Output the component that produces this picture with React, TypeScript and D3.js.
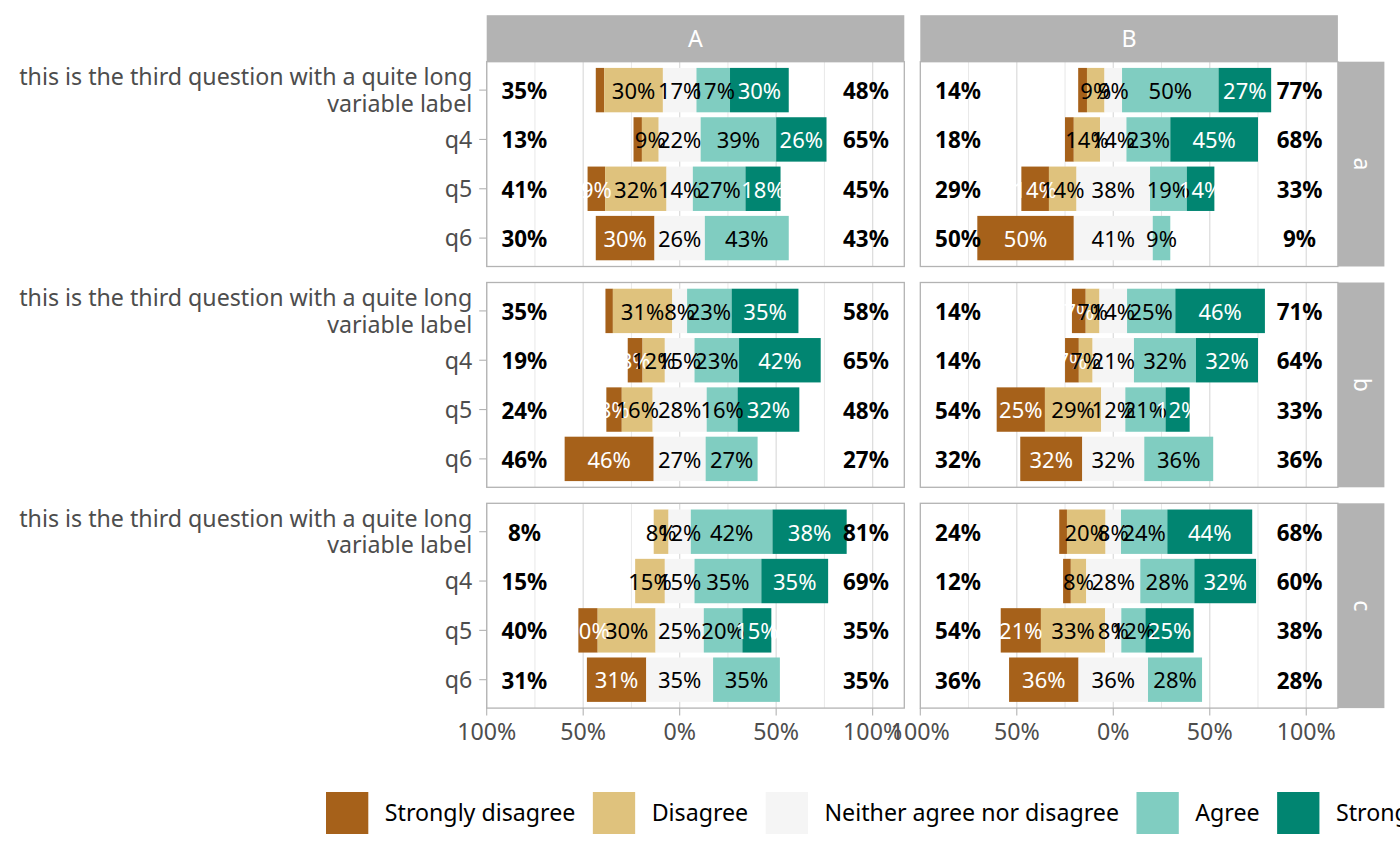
import { useMemo } from "react";
import { scaleLinear, scalePoint } from "d3";

const QUESTIONS = ["this is the third question with a quite long variable label", "q4", "q5", "q6"];
const COLUMNS = ["A", "B"];
const ROW_FACETS = ["a", "b", "c"];
const LEVELS = ["Strongly disagree", "Disagree", "Neither agree nor disagree", "Agree", "Strongly agree"];
const COLORS = ["#A6611A", "#DFC27D", "#F5F5F5", "#80CDC1", "#018571"];
const LABEL_COLORS = ["#FFFFFF", "#000000", "#000000", "#000000", "#FFFFFF"];

// % per question (rows) and answer level (columns)
const cellAa = [
  [4.35, 30.43, 17.39, 17.39, 30.43],
  [4.35, 8.7, 21.74, 39.13, 26.09],
  [9.09, 31.82, 13.64, 27.27, 18.18],
  [30.43, 0, 26.09, 43.48, 0],
];
const cellBa = [
  [4.55, 9.09, 9.09, 50, 27.27],
  [4.55, 13.64, 13.64, 22.73, 45.45],
  [14.29, 14.29, 38.1, 19.05, 14.29],
  [50, 0, 40.91, 9.09, 0],
];
const cellAb = [
  [3.85, 30.77, 7.69, 23.08, 34.62],
  [7.69, 11.54, 15.38, 23.08, 42.31],
  [8, 16, 28, 16, 32],
  [46.15, 0, 26.92, 26.92, 0],
];
const cellBb = [
  [7.14, 7.14, 14.29, 25, 46.43],
  [7.14, 7.14, 21.43, 32.14, 32.14],
  [25, 29.17, 12.5, 20.83, 12.5],
  [32.14, 0, 32.14, 35.71, 0],
];
const cellAc = [
  [0, 7.69, 11.54, 42.31, 38.46],
  [0, 15.38, 15.38, 34.62, 34.62],
  [10, 30, 25, 20, 15],
  [30.77, 0, 34.62, 34.62, 0],
];
const cellBc = [
  [4, 20, 8, 24, 44],
  [4, 8, 28, 28, 32],
  [20.83, 33.33, 8.33, 12.5, 25],
  [36, 0, 36, 28, 0],
];

const MAJOR_TICKS = [-100, -50, 0, 50, 100];
const MINOR_TICKS = [-75, -25, 25, 75];

const CELLS: Record<string, number[][]> = {
  "A-a": cellAa, "B-a": cellBa,
  "A-b": cellAb, "B-b": cellBb,
  "A-c": cellAc, "B-c": cellBc,
};

const FONT = "'Noto Sans', sans-serif";
const FS = 23.2; // axis, strip, legend text
const FS_LABEL = 22; // in-bar labels
const FS_TOTAL = 22.4;
const HIDE_BELOW = 5;
const TOTALS_HJUST = 10;

const PANEL_X0 = 486.7;
const PANEL_W = 417.6;
const COL_GAP = 16;
const PANEL_Y0 = 61.7;
const PANEL_H = 204.8;
const ROW_GAP = 16;
const STRIP = 46.5;
const BORDER = "#B3B3B3";

// R style rounding (half to even)
function pct(v: number) {
  let r = Math.round(v);
  if (Math.abs(v - Math.trunc(v)) === 0.5) r = 2 * Math.round(v / 2);
  return `${r}%`;
}

function wrap(s: string, width: number) {
  const words = s.split(" ");
  const lines: string[] = [];
  let cur = "";
  for (const w of words) {
    if (cur && (cur + " " + w).length > width) {
      lines.push(cur);
      cur = w;
    } else cur = cur ? cur + " " + w : w;
  }
  if (cur) lines.push(cur);
  return lines;
}

export default function App() {
  const all = Object.values(CELLS).flat();
  const leftMax = Math.max(...all.map((r) => r[0] + r[1] + r[2] / 2));
  const rightMax = Math.max(...all.map((r) => r[2] / 2 + r[3] + r[4]));
  const totLeftX = -(leftMax + TOTALS_HJUST);
  const totRightX = rightMax + TOTALS_HJUST;

  const legendWidths = useMemo(() => {
    const ctx = document.createElement("canvas").getContext("2d");
    if (!ctx) return LEVELS.map((l) => l.length * 11);
    ctx.font = `${FS}px 'Noto Sans'`;
    return LEVELS.map((l) => ctx.measureText(l).width);
  }, []);

  const colX = (c: number) => PANEL_X0 + c * (PANEL_W + COL_GAP);
  const rowY = (r: number) => PANEL_Y0 + r * (PANEL_H + ROW_GAP);
  const bottom = rowY(ROW_FACETS.length - 1) + PANEL_H;
  const rightEdge = colX(COLUMNS.length - 1) + PANEL_W;

  // legend layout
  const KEY_W = 42.3;
  const KEY_H = 42;
  const legendY = 792;
  let lx = 326;
  const legendItems = LEVELS.map((l, i) => {
    const item = { label: l, color: COLORS[i], x: lx };
    lx += KEY_W + 16.5 + legendWidths[i] + 17.5;
    return item;
  });

  return (
    <svg width={1400} height={865} style={{ position: "absolute", left: 0, top: 0 }} fontFamily={FONT}>
      <rect width={1400} height={865} fill="#FFFFFF" />
      {ROW_FACETS.map((rf, ri) =>
        COLUMNS.map((cf, ci) => {
          const px = colX(ci);
          const py = rowY(ri);
          const x = scaleLinear().domain([-100, 116.4]).range([px, px + PANEL_W]);
          const y = scalePoint<string>().domain(QUESTIONS).range([py, py + PANEL_H]).padding(0.576);
          const bh = y.step() * 0.9;
          const data = CELLS[`${cf}-${rf}`];
          const clipId = `clip-${cf}-${rf}`;
          return (
            <g key={clipId}>
              <clipPath id={clipId}>
                <rect x={px} y={py} width={PANEL_W} height={PANEL_H} />
              </clipPath>
              <g clipPath={`url(#${clipId})`}>
                {MINOR_TICKS.map((t) => (
                  <line key={`mi${t}`} x1={x(t)} x2={x(t)} y1={py} y2={py + PANEL_H} stroke="#DEDEDE" strokeWidth={0.7} />
                ))}
                {MAJOR_TICKS.map((t) => (
                  <line key={`ma${t}`} x1={x(t)} x2={x(t)} y1={py} y2={py + PANEL_H} stroke="#DEDEDE" strokeWidth={1.3} />
                ))}
                {data.map((vals, qi) => {
                  const cy = y(QUESTIONS[qi]) ?? 0;
                  let start = -(vals[0] + vals[1] + vals[2] / 2);
                  const segs = vals.map((v, li) => {
                    const s = { li, v, x0: start, x1: start + v };
                    start += v;
                    return s;
                  });
                  return (
                    <g key={qi}>
                      {segs.filter((s) => s.v > 0).map((s) => (
                        <rect key={s.li} x={x(s.x0)} y={cy - bh / 2} width={x(s.x1) - x(s.x0)} height={bh} fill={COLORS[s.li]} />
                      ))}
                    </g>
                  );
                })}
                {data.map((vals, qi) => {
                  const cy = y(QUESTIONS[qi]) ?? 0;
                  let start = -(vals[0] + vals[1] + vals[2] / 2);
                  const labels = vals.map((v, li) => {
                    const mid = start + v / 2;
                    start += v;
                    return { li, v, mid };
                  });
                  const left = vals[0] + vals[1];
                  const right = vals[3] + vals[4];
                  return (
                    <g key={`l${qi}`}>
                      {labels.filter((l) => l.v >= HIDE_BELOW).map((l) => (
                        <text key={l.li} x={x(l.mid)} y={cy} dy="0.4em" textAnchor="middle" fontSize={FS_LABEL} fill={LABEL_COLORS[l.li]}>
                          {pct(l.v)}
                        </text>
                      ))}
                      <text x={x(totLeftX)} y={cy} dy="0.4em" textAnchor="middle" fontSize={FS_TOTAL} fontWeight={700} fill="#000">
                        {pct(left)}
                      </text>
                      <text x={x(totRightX)} y={cy} dy="0.4em" textAnchor="middle" fontSize={FS_TOTAL} fontWeight={700} fill="#000">
                        {pct(right)}
                      </text>
                    </g>
                  );
                })}
              </g>
              <rect x={px} y={py} width={PANEL_W} height={PANEL_H} fill="none" stroke={BORDER} strokeWidth={1.3} />

              {/* y axis on first column */}
              {ci === 0 &&
                QUESTIONS.map((q) => {
                  const cy = y(q) ?? 0;
                  const lines = wrap(q, 50);
                  const lh = 26.7;
                  return (
                    <g key={q}>
                      <line x1={px - 7.5} x2={px} y1={cy} y2={cy} stroke={BORDER} strokeWidth={1.1} />
                      <text x={px - 14.5} y={cy - ((lines.length - 1) * lh) / 2} fontSize={FS} fill="#4D4D4D" textAnchor="end">
                        {lines.map((ln, k) => (
                          <tspan key={k} x={px - 14.5} dy={k === 0 ? "0.36em" : lh}>
                            {ln}
                          </tspan>
                        ))}
                      </text>
                    </g>
                  );
                })}

              {/* x axis on last row */}
              {ri === ROW_FACETS.length - 1 &&
                MAJOR_TICKS.map((t) => (
                  <g key={`xt${t}`}>
                    <line x1={x(t)} x2={x(t)} y1={bottom} y2={bottom + 7.5} stroke={BORDER} strokeWidth={1.1} />
                    <text x={x(t)} y={bottom + 32} fontSize={FS} fill="#4D4D4D" textAnchor="middle">
                      {pct(Math.abs(t))}
                    </text>
                  </g>
                ))}
            </g>
          );
        })
      )}

      {/* column strips */}
      {COLUMNS.map((c, ci) => (
        <g key={c}>
          <rect x={colX(ci)} y={PANEL_Y0 - STRIP} width={PANEL_W} height={STRIP} fill={BORDER} />
          <text x={colX(ci) + PANEL_W / 2} y={PANEL_Y0 - STRIP / 2} dy="0.36em" textAnchor="middle" fontSize={FS} fill="#FFFFFF">
            {c}
          </text>
        </g>
      ))}

      {/* row strips */}
      {ROW_FACETS.map((r, ri) => {
        const cx = rightEdge + STRIP / 2;
        const cy = rowY(ri) + PANEL_H / 2;
        return (
          <g key={r}>
            <rect x={rightEdge} y={rowY(ri)} width={STRIP} height={PANEL_H} fill={BORDER} />
            <text transform={`translate(${cx},${cy}) rotate(90)`} dy="0.3em" textAnchor="middle" fontSize={FS} fill="#FFFFFF">
              {r}
            </text>
          </g>
        );
      })}

      {/* legend */}
      {legendItems.map((it) => (
        <g key={it.label}>
          <rect x={it.x} y={legendY} width={KEY_W} height={KEY_H} fill={it.color} />
          <text x={it.x + KEY_W + 16.5} y={legendY + KEY_H / 2} dy="0.36em" fontSize={FS} fill="#000000">
            {it.label}
          </text>
        </g>
      ))}
    </svg>
  );
}
